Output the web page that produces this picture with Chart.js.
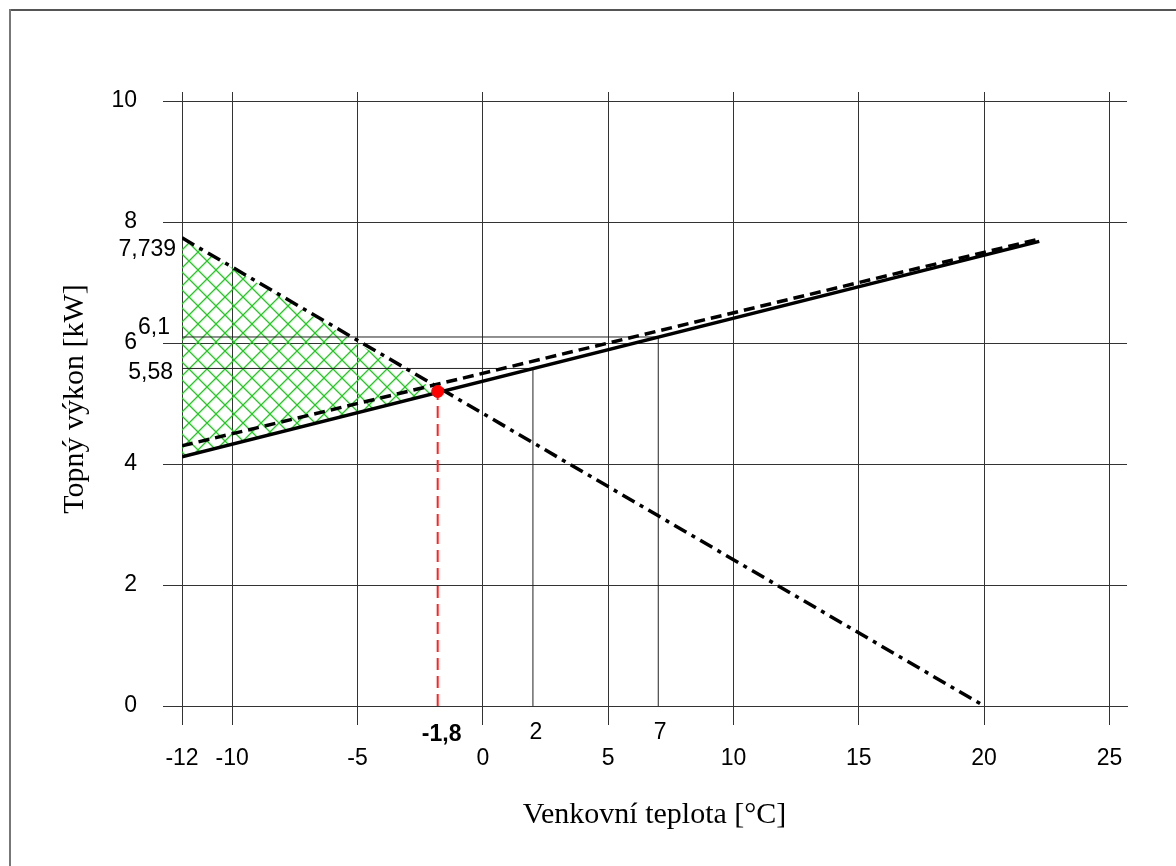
<!DOCTYPE html>
<html>
<head>
<meta charset="utf-8">
<script src="https://cdn.jsdelivr.net/npm/chart.js@4.4.1/dist/chart.umd.min.js"></script>
<style>
  body { margin: 0; background: #fff; }
  #wrap { position: relative; width: 1176px; height: 866px; }
</style>
</head>
<body>
<div id="wrap"><canvas id="chart-area"></canvas></div>
<script>
// values
var tempSolid = [-12, 22.2];
var powerSolid = [4.12, 7.68];
var tempDashed = [-12, 22.2];
var powerDashed = [4.3, 7.72];
var tempDashDot = [-12, 20];
var powerDashDot = [7.739, 0];
var balanceTemp = -1.8;
var balancePower = 5.2;
var markTemps = [2, 7];
var markPowers = [5.58, 6.1];
var xTicks = [-12, -10, -5, 0, 5, 10, 15, 20, 25];
var yTicks = [0, 2, 4, 6, 8, 10];

function pts(xs, ys) {
    return xs.map(function (x, i) { return {x: x, y: ys[i]}; });
}

// green cross hatch
function hatch() {
    var c = document.createElement('canvas');
    c.width = 18; c.height = 18;
    var g = c.getContext('2d');
    g.strokeStyle = '#1ecc1e';
    g.lineWidth = 1.3;
    g.beginPath();
    g.moveTo(0, 0); g.lineTo(18, 18);
    g.moveTo(18, 0); g.lineTo(0, 18);
    g.stroke();
    return g.createPattern(c, 'repeat');
}

var thin = {borderColor: '#222', borderWidth: 1, pointRadius: 0, fill: false};

var labels = {
    id: 'labels',
    beforeDraw: function (chart) {
        var ctx = chart.ctx;
        ctx.save();
        ctx.fillStyle = '#555';
        ctx.fillRect(9, 9, 1167, 2);
        ctx.fillStyle = '#777';
        ctx.fillRect(9, 9, 2, 857);
        ctx.restore();
    },
    afterDraw: function (chart) {
        var ctx = chart.ctx, x = chart.scales.x, y = chart.scales.y;
        ctx.save();
        ctx.fillStyle = '#000';
        ctx.textBaseline = 'middle';
        ctx.textAlign = 'center';
        ctx.font = 'bold 23px "Liberation Sans", Arial, sans-serif';
        ctx.fillText('-1,8', x.getPixelForValue(balanceTemp) + 4, 735);
        ctx.font = '23px "Liberation Sans", Arial, sans-serif';
        ctx.fillText('2', x.getPixelForValue(markTemps[0]) + 3, 733);
        ctx.fillText('7', x.getPixelForValue(markTemps[1]) + 2, 733);
        ctx.textAlign = 'right';
        ctx.fillText('7,739', 176, y.getPixelForValue(powerDashDot[0]) + 12);
        ctx.fillText('6,1', 170, y.getPixelForValue(markPowers[1]) - 9);
        ctx.fillText('5,58', 173, y.getPixelForValue(markPowers[0]) + 4);
        ctx.restore();
    }
};

// first dataset is drawn on top
var config = {
    type: 'line',
    data: {
        datasets: [
            {
                data: [{x: balanceTemp, y: balancePower}],
                showLine: false, pointStyle: 'circle', pointRadius: 6,
                pointBackgroundColor: '#ff0000', pointBorderColor: '#ff0000', pointBorderWidth: 1
            },
            {
                data: pts(tempDashDot, powerDashDot),
                borderColor: '#000', borderWidth: 3.5, borderDash: [14, 6, 4, 6], pointRadius: 0, fill: false
            },
            {
                data: pts(tempDashed, powerDashed),
                borderColor: '#000', borderWidth: 3.5, borderDash: [11, 6], pointRadius: 0, fill: false
            },
            {
                data: pts(tempSolid, powerSolid),
                borderColor: '#000', borderWidth: 3.5, pointRadius: 0, fill: false
            },
            {
                data: [{x: balanceTemp, y: 0}, {x: balanceTemp, y: balancePower}],
                borderColor: '#ff2020', borderWidth: 2, borderDash: [12, 6], pointRadius: 0, fill: false
            },
            Object.assign({data: [{x: -12, y: markPowers[0]}, {x: markTemps[0], y: markPowers[0]}]}, thin),
            Object.assign({data: [{x: -12, y: markPowers[1]}, {x: markTemps[1], y: markPowers[1]}]}, thin),
            Object.assign({data: [{x: markTemps[0], y: 0}, {x: markTemps[0], y: markPowers[0]}]}, thin),
            Object.assign({data: [{x: markTemps[1], y: 0}, {x: markTemps[1], y: markPowers[1]}]}, thin),
            {
                data: [{x: -12, y: powerDashDot[0]}, {x: balanceTemp, y: balancePower}],
                borderWidth: 0, pointRadius: 0,
                backgroundColor: hatch(), fill: '+1'
            },
            {
                data: [{x: -12, y: powerSolid[0]}, {x: balanceTemp, y: balancePower}],
                borderWidth: 0, pointRadius: 0, fill: false
            }
        ]
    },
    options: {
        responsive: true,
        maintainAspectRatio: false,
        animation: false,
        layout: {padding: {left: 0, right: 49, top: 92, bottom: 0}},
        plugins: {legend: {display: false}, tooltip: {enabled: false}},
        scales: {
            x: {
                type: 'linear', min: -12, max: 25.7,
                afterBuildTicks: function (s) { s.ticks = xTicks.map(function (v) { return {value: v}; }); },
                afterFit: function (s) { s.height = 160; },
                ticks: {
                    color: '#000', padding: 20, maxRotation: 0, autoSkip: false,
                    font: {family: '"Liberation Sans", Arial, sans-serif', size: 23},
                    callback: function (v) { return String(v); }
                },
                grid: {color: '#333', lineWidth: 1, tickLength: 19},
                border: {color: '#333'},
                title: {
                    display: true, text: 'Venkovní teplota [°C]', color: '#000',
                    font: {family: '"Liberation Serif", "Times New Roman", serif', size: 30},
                    padding: {top: 0, bottom: 33}
                }
            },
            y: {
                type: 'linear', min: 0, max: 10.15,
                afterBuildTicks: function (s) { s.ticks = yTicks.map(function (v) { return {value: v}; }); },
                afterFit: function (s) { s.width = 182; },
                ticks: {
                    color: '#000', padding: 26, autoSkip: false,
                    font: {family: '"Liberation Sans", Arial, sans-serif', size: 23},
                    callback: function (v) { return String(v); }
                },
                grid: {color: '#333', lineWidth: 1, tickLength: 19},
                border: {color: '#333'},
                title: {
                    display: true, text: 'Topný výkon [kW]', color: '#000',
                    font: {family: '"Liberation Serif", "Times New Roman", serif', size: 30},
                    padding: {top: 57, bottom: 0}
                }
            }
        }
    },
    plugins: [labels]
};

window.onload = function () {
    var ctx = document.getElementById('chart-area').getContext('2d');
    new Chart(ctx, config);
};
</script>
</body>
</html>
